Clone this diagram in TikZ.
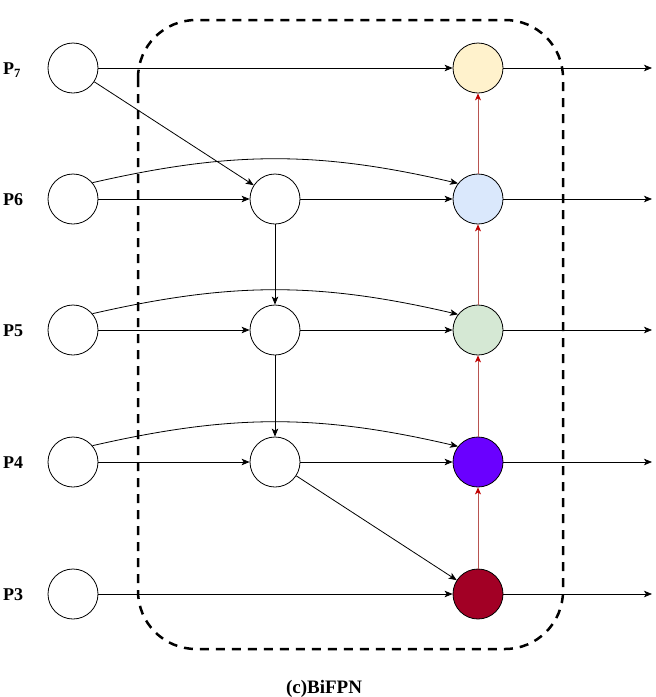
\documentclass[tikz,border=0pt]{standalone}
\usepackage{fontspec}
\setmainfont{Liberation Serif}
\usetikzlibrary{arrows.meta}
\definecolor{redl}{HTML}{B85450}
\definecolor{redc}{HTML}{C00000}
\definecolor{cyel}{HTML}{FFF2CC}
\definecolor{cblu}{HTML}{DAE8FC}
\definecolor{cgrn}{HTML}{D5E8D4}
\definecolor{cvio}{HTML}{6A00FF}
\definecolor{ccri}{HTML}{A20025}
\begin{document}
\begin{tikzpicture}[x=1pt,y=-1pt,
  nd/.style={circle,draw,line width=0.8pt,minimum size=50pt,inner sep=0pt},
  arr/.style={-{Stealth[length=8pt,width=6.5pt,inset=2pt]},line width=0.8pt},
  redarr/.style={-{Stealth[length=7pt,width=6pt,inset=2pt,color=redc]},line width=0.8pt,draw=redl},
  lab/.style={font=\bfseries\fontsize{18}{20}\selectfont,anchor=west,inner sep=0pt}]
\useasboundingbox (0,0) rectangle (656,697);
\draw[line width=2.5pt, dash pattern=on 9pt off 7pt, rounded corners=58pt] (138,20) rectangle (563,649);
% left column
\node[nd] (l7) at (73,68) {};
\node[nd] (l6) at (73,199) {};
\node[nd] (l5) at (73,330) {};
\node[nd] (l4) at (73,462) {};
\node[nd] (l3) at (73,594) {};
% middle column
\node[nd] (m6) at (275,199) {};
\node[nd] (m5) at (275,330) {};
\node[nd] (m4) at (275,462) {};
% right column
\node[nd,fill=cyel] (r7) at (478,68) {};
\node[nd,fill=cblu] (r6) at (478,199) {};
\node[nd,fill=cgrn] (r5) at (478,330) {};
\node[nd,fill=cvio] (r4) at (478,462) {};
\node[nd,fill=ccri] (r3) at (478,594) {};
% labels
\node[lab] (p7) at (3,70) {P\textsubscript{7}};
\node[lab] (p6) at (3,200) {P6};
\node[lab] (p5) at (3,331) {P5};
\node[lab] (p4) at (3,463) {P4};
\node[lab] (p3) at (3,595) {P3};
\node[font=\bfseries\fontsize{19}{21}\selectfont,inner sep=0pt] (cap) at (324,689) {(c)BiFPN};
% outputs
\coordinate (o7) at (652,68);
\coordinate (o6) at (652,199);
\coordinate (o5) at (652,330);
\coordinate (o4) at (652,462);
\coordinate (o3) at (652,594);
\foreach \i in {3,...,7} {\draw[arr] (r\i) -- (o\i);}
% straight connections
\draw[arr] (l7) -- (r7);
\draw[arr] (l3) -- (r3);
\foreach \i in {4,5,6} {
  \draw[arr] (l\i) -- (m\i);
  \draw[arr] (m\i) -- (r\i);
  \draw[arr] (l\i.40) to[bend left=13] (r\i.142);
}
\draw[arr] (l7) -- (m6);
\draw[arr] (m6) -- (m5);
\draw[arr] (m5) -- (m4);
\draw[arr] (m4) -- (r3);
% red upward
\draw[redarr] (r3) -- (r4);
\draw[redarr] (r4) -- (r5);
\draw[redarr] (r5) -- (r6);
\draw[redarr] (r6) -- (r7);
\end{tikzpicture}
\end{document}
